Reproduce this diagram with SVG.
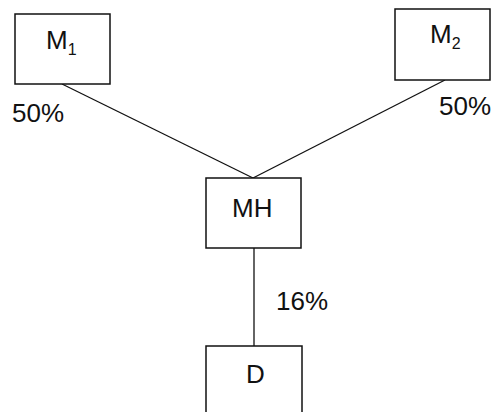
<svg xmlns="http://www.w3.org/2000/svg" width="497" height="412" viewBox="0 0 497 412">
<style>
.box{fill:#fff;stroke:#111;stroke-width:1.5}
.t{font-family:"Liberation Sans",Arial,sans-serif;font-size:26px;fill:#111}
.s{font-size:16px}
.c{stroke:#111;stroke-width:1.3;fill:none}
</style>
<rect width="497" height="412" fill="#fff"/>
<g id="connectors">
<line class="c" x1="62" y1="84" x2="253" y2="178"/>
<line class="c" x1="445" y1="80" x2="253" y2="178"/>
<line class="c" x1="254" y1="248" x2="254" y2="346"/>
</g>
<g id="M1">
<rect class="box" x="15" y="14" width="95" height="70"/>
<text class="t" x="46" y="49">M<tspan class="s" dy="6">1</tspan></text>
</g>
<g id="M2">
<rect class="box" x="395" y="9" width="95" height="71"/>
<text class="t" x="430" y="43">M<tspan class="s" dy="6">2</tspan></text>
</g>
<g id="MH">
<rect class="box" x="206" y="178" width="95" height="70"/>
<text class="t" x="232" y="217">MH</text>
</g>
<g id="D">
<rect class="box" x="206" y="346" width="96" height="80"/>
<text class="t" x="246" y="383">D</text>
</g>
<g id="labels">
<text class="t" x="12" y="122">50%</text>
<text class="t" x="439" y="115">50%</text>
<text class="t" x="276" y="310">16%</text>
</g>
</svg>
